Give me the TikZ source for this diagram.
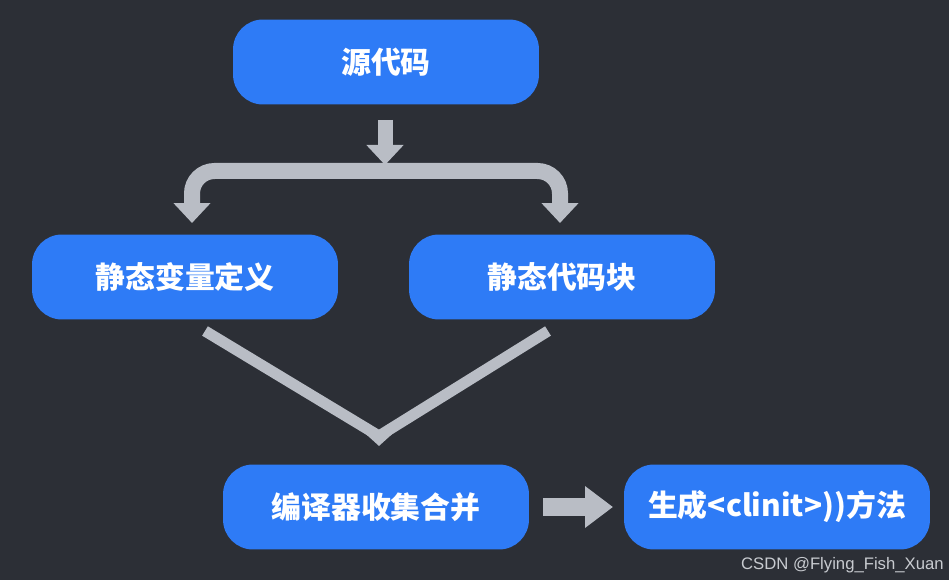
\documentclass[tikz,border=0pt]{standalone}
\usepackage{fontspec}
\usepackage{tikz}
\usetikzlibrary{arrows.meta}
\newfontfamily\cjk{Noto Sans CJK SC}
\newfontfamily\wmark{Liberation Sans}
\definecolor{bgDark}{RGB}{44,47,54}
\definecolor{boxBlue}{RGB}{46,123,246}
\definecolor{arrowGrey}{RGB}{185,189,197}
\definecolor{markGrey}{RGB}{200,203,208}
\tikzstyle{stageBox}=[shape = rectangle, rounded corners = 0.6cm, minimum width = 6.12cm, minimum height = 1.7cm, fill = boxBlue, text = white, font = \cjk\bfseries\fontsize{17}{20}\selectfont]
\tikzstyle{thickArrow}=[draw = arrowGrey, line width = 0.32cm, -{Triangle[width = 0.72cm, length = 0.4cm]}]

\begin{document}
\begin{tikzpicture}[x = 0.02cm, y = -0.02cm]
\fill[bgDark] (0,0) rectangle (949,580);
\useasboundingbox (0,0) rectangle (949,580);
\tikzstyle{thinLine}=[draw = arrowGrey, line width = 0.22cm, line join = miter]
% boxes
\node[stageBox] (src) at (386,62) {源代码};
\node[stageBox] (staticVar) at (185,277) {静态变量定义};
\node[stageBox] (staticBlock) at (562,277) {静态代码块};
\node[stageBox] (collect) at (376,507) {编译器收集合并};
\node[stageBox] (clinit) at (777,507) {生成<clinit>))方法};
% fork below the source
\coordinate (forkTop) at (385,120);
\coordinate (forkMid) at (385,171);
\coordinate (forkL) at (192,223);
\coordinate (forkR) at (560,223);
\draw[thickArrow, line width = 0.3cm] (forkTop) -- (385,165);
\draw[thickArrow, rounded corners = 0.45cm] (forkMid) -| (forkL);
\draw[thickArrow, rounded corners = 0.45cm] (forkMid) -| (forkR);
% merge into the collector
\coordinate (varOut) at (205,331);
\coordinate (blockOut) at (548,331);
\coordinate (meet) at (379,436);
\coordinate (meetTip) at (379,446);
\draw[thinLine] (varOut) -- (meet) -- (blockOut);
\draw[thinLine, -{Triangle[width = 0.6cm, length = 0.28cm]}] (meet) -- (meetTip);
% to the result
\coordinate (outL) at (543,507);
\coordinate (outR) at (613,507);
\draw[draw = arrowGrey, line width = 0.36cm, -{Triangle[width = 0.8cm, length = 0.56cm]}] (outL) -- (outR);
\node[anchor = east, text = markGrey, font = \wmark\fontsize{9.5}{11}\selectfont, inner sep = 0pt] (mark) at (944,565) {CSDN @Flying\_Fish\_Xuan};
\end{tikzpicture}
\end{document}
